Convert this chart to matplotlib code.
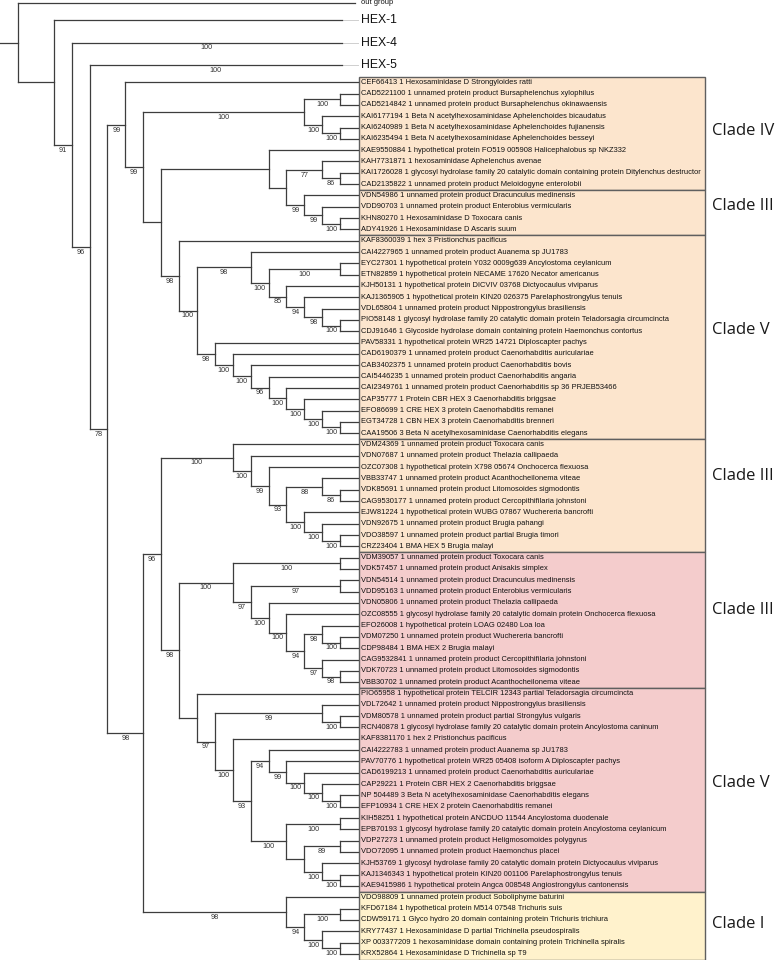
import matplotlib
matplotlib.use("Agg")
import matplotlib.pyplot as plt
from matplotlib.patches import Rectangle

# ---------------- data ----------------
TOP_TIPS = ["out group", "HEX-1", "HEX-4", "HEX-5"]

LEAF_LABELS = [
    "CEF66413 1 Hexosaminidase D Strongyloides ratti",
    "CAD5221100 1 unnamed protein product Bursaphelenchus xylophilus",
    "CAD5214842 1 unnamed protein product Bursaphelenchus okinawaensis",
    "KAI6177194 1 Beta N acetylhexosaminidase Aphelenchoides bicaudatus",
    "KAI6240989 1 Beta N acetylhexosaminidase Aphelenchoides fujianensis",
    "KAI6235494 1 Beta N acetylhexosaminidase Aphelenchoides besseyi",
    "KAE9550884 1 hypothetical protein FO519 005908 Halicephalobus sp NKZ332",
    "KAH7731871 1 hexosaminidase Aphelenchus avenae",
    "KAI1726028 1 glycosyl hydrolase family 20 catalytic domain containing protein Ditylenchus destructor",
    "CAD2135822 1 unnamed protein product Meloidogyne enterolobii",
    "VDN54986 1 unnamed protein product Dracunculus medinensis",
    "VDD90703 1 unnamed protein product Enterobius vermicularis",
    "KHN80270 1 Hexosaminidase D Toxocara canis",
    "ADY41926 1 Hexosaminidase D Ascaris suum",
    "KAF8360039 1 hex 3 Pristionchus pacificus",
    "CAI4227965 1 unnamed protein product Auanema sp JU1783",
    "EYC27301 1 hypothetical protein Y032 0009g639 Ancylostoma ceylanicum",
    "ETN82859 1 hypothetical protein NECAME 17620 Necator americanus",
    "KJH50131 1 hypothetical protein DICVIV 03768 Dictyocaulus viviparus",
    "KAJ1365905 1 hypothetical protein KIN20 026375 Parelaphostrongylus tenuis",
    "VDL65804 1 unnamed protein product Nippostrongylus brasiliensis",
    "PIO58148 1 glycosyl hydrolase family 20 catalytic domain protein Teladorsagia circumcincta",
    "CDJ91646 1 Glycoside hydrolase domain containing protein Haemonchus contortus",
    "PAV58331 1 hypothetical protein WR25 14721 Diploscapter pachys",
    "CAD6190379 1 unnamed protein product Caenorhabditis auriculariae",
    "CAB3402375 1 unnamed protein product Caenorhabditis bovis",
    "CAI5446235 1 unnamed protein product Caenorhabditis angaria",
    "CAI2349761 1 unnamed protein product Caenorhabditis sp 36 PRJEB53466",
    "CAP35777 1 Protein CBR HEX 3 Caenorhabditis briggsae",
    "EFO86699 1 CRE HEX 3 protein Caenorhabditis remanei",
    "EGT34728 1 CBN HEX 3 protein Caenorhabditis brenneri",
    "CAA19506 3 Beta N acetylhexosaminidase Caenorhabditis elegans",
    "VDM24369 1 unnamed protein product Toxocara canis",
    "VDN07687 1 unnamed protein product Thelazia callipaeda",
    "OZC07308 1 hypothetical protein X798 05674 Onchocerca flexuosa",
    "VBB33747 1 unnamed protein product Acanthocheilonema viteae",
    "VDK85691 1 unnamed protein product Litomosoides sigmodontis",
    "CAG9530177 1 unnamed protein product Cercopithifilaria johnstoni",
    "EJW81224 1 hypothetical protein WUBG 07867 Wuchereria bancrofti",
    "VDN92675 1 unnamed protein product Brugia pahangi",
    "VDO38597 1 unnamed protein product partial Brugia timori",
    "CRZ23404 1 BMA HEX 5 Brugia malayi",
    "VDM39057 1 unnamed protein product Toxocara canis",
    "VDK57457 1 unnamed protein product Anisakis simplex",
    "VDN54514 1 unnamed protein product Dracunculus medinensis",
    "VDD95163 1 unnamed protein product Enterobius vermicularis",
    "VDN05806 1 unnamed protein product Thelazia callipaeda",
    "OZC08555 1 glycosyl hydrolase family 20 catalytic domain protein Onchocerca flexuosa",
    "EFO26008 1 hypothetical protein LOAG 02480 Loa loa",
    "VDM07250 1 unnamed protein product Wuchereria bancrofti",
    "CDP98484 1 BMA HEX 2 Brugia malayi",
    "CAG9532841 1 unnamed protein product Cercopithifilaria johnstoni",
    "VDK70723 1 unnamed protein product Litomosoides sigmodontis",
    "VBB30702 1 unnamed protein product Acanthocheilonema viteae",
    "PIO65958 1 hypothetical protein TELCIR 12343 partial Teladorsagia circumcincta",
    "VDL72642 1 unnamed protein product Nippostrongylus brasiliensis",
    "VDM80578 1 unnamed protein product partial Strongylus vulgaris",
    "RCN40878 1 glycosyl hydrolase family 20 catalytic domain protein Ancylostoma caninum",
    "KAF8381170 1 hex 2 Pristionchus pacificus",
    "CAI4222783 1 unnamed protein product Auanema sp JU1783",
    "PAV70776 1 hypothetical protein WR25 05408 isoform A Diploscapter pachys",
    "CAD6199213 1 unnamed protein product Caenorhabditis auriculariae",
    "CAP29221 1 Protein CBR HEX 2 Caenorhabditis briggsae",
    "NP 504489 3 Beta N acetylhexosaminidase Caenorhabditis elegans",
    "EFP10934 1 CRE HEX 2 protein Caenorhabditis remanei",
    "KIH58251 1 hypothetical protein ANCDUO 11544 Ancylostoma duodenale",
    "EPB70193 1 glycosyl hydrolase family 20 catalytic domain protein Ancylostoma ceylanicum",
    "VDP27273 1 unnamed protein product Heligmosomoides polygyrus",
    "VDO72095 1 unnamed protein product Haemonchus placei",
    "KJH53769 1 glycosyl hydrolase family 20 catalytic domain protein Dictyocaulus viviparus",
    "KAJ1346343 1 hypothetical protein KIN20 001106 Parelaphostrongylus tenuis",
    "KAE9415986 1 hypothetical protein Angca 008548 Angiostrongylus cantonensis",
    "VDO98809 1 unnamed protein product Soboliphyme baturini",
    "KFD67184 1 hypothetical protein M514 07548 Trichuris suis",
    "CDW59171 1 Glyco hydro 20 domain containing protein Trichuris trichiura",
    "KRY77437 1 Hexosaminidase D partial Trichinella pseudospiralis",
    "XP 003377209 1 hexosaminidase domain containing protein Trichinella spiralis",
    "KRX52864 1 Hexosaminidase D Trichinella sp T9",
]

TIPS = TOP_TIPS + LEAF_LABELS          # tip index = position in this list
TIP_SUPPORT = {2: 100, 3: 100}         # bootstrap on collapsed HEX-4 / HEX-5 branches
COLLAPSED = {1, 2, 3}                  # HEX clades shown collapsed
BIG_TIPS = {1, 2, 3}                   # rows drawn taller (large labels)
COLLAPSED_HEIGHT = {0: 18}             # outgroup is a collapsed clade

# topology (tip indices) with bootstrap support after ")"
BURSAPH = "((5,6)100,(7,(8,9)100)100)100"
IV_III = "(10,((11,(12,13)86)77,(14,(15,(16,17)100)99)99))"
V_OR = ("(18,((19,((20,21)100,(22,(23,(24,(25,26)100)98)94)85)100)98,"
        "(27,(28,(29,(30,(31,(32,(33,(34,35)100)100)100)100)96)100)100)98)100)98")
III_OR = "(36,(37,(38,((39,(40,41)86)88,(42,(43,(44,45)100)100)100)93)99)100)100"
III_PK = "((46,47)100,((48,49)97,(50,(51,((52,(53,54)100)98,(55,(56,57)98)97)94)100)100)97)100"
V_PK = ("(58,((59,(60,61)100)99,(62,((63,(64,(65,(66,(67,68)100)100)100)99)94,"
        "((69,70)100,((71,72)89,(73,(74,75)100)100))100)93)100)97)")
CLADE_I = "(76,((77,78)100,(79,(80,81)100)100)94)98"
N162A = "(%s,%s)" % (IV_III, V_OR)
N144A = "(%s,%s)99" % (BURSAPH, N162A)
N126 = "(4,%s)99" % N144A
N144B = "((%s,(%s,%s)98)96,%s)98" % (III_OR, III_PK, V_PK, CLADE_I)
NEWICK = "(0,(1,(2,(3,(%s,%s)78)96)91))" % (N126, N144B)

# clades: label, first leaf, last leaf (1-based), fill colour, label row shift
CLADES = [
    ("Clade IV", 1, 10, "#FCE5CD", -0.2),
    ("Clade III", 11, 14, "#FCE5CD", -0.6),
    ("Clade V", 15, 32, "#FCE5CD", -0.6),
    ("Clade III", 33, 42, "#FCE5CD", -1.7),
    ("Clade III", 43, 54, "#F4CCCC", -0.9),
    ("Clade V", 55, 72, "#F4CCCC", -0.6),
    ("Clade I", 73, 78, "#FFF2CC", -0.1),
]

# ---------------- layout ----------------
W, H = 776, 960
X_STEP, Y_STEP, Y0 = 17.9, 11.32, 3.0
TIP_LEVEL = 20
COLLAPSED_END = 342 / X_STEP
BOX_L, BOX_R = 359 / X_STEP, 705 / X_STEP
LABEL_X = 361 / X_STEP
CLADE_X = 712 / X_STEP
LINE_C = "#3d3d3d"
LW = 0.9


def parse(s):
    pos = 0

    def read_num():
        nonlocal pos
        st = pos
        while pos < len(s) and s[pos].isdigit():
            pos += 1
        return int(s[st:pos]) if pos > st else None

    def node():
        nonlocal pos
        if s[pos] == "(":
            pos += 1
            kids = [node()]
            while s[pos] == ",":
                pos += 1
                kids.append(node())
            pos += 1  # ')'
            return {"kids": kids, "support": read_num()}
        t = read_num()
        return {"tip": t, "support": TIP_SUPPORT.get(t)}

    return node()


# tip rows
rows = []
acc = 0.0
h0 = 2 if 0 in BIG_TIPS else 1
for i in range(len(TIPS)):
    h = 2 if i in BIG_TIPS else 1
    rows.append(acc + h / 2 - h0 / 2)
    acc += h


def layout(n):
    if "tip" in n:
        n["y"] = rows[n["tip"]]
        n["h"] = COLLAPSED_HEIGHT.get(n["tip"], 0)
        n["x"] = TIP_LEVEL
    else:
        for k in n["kids"]:
            layout(k)
        n["y"] = (n["kids"][0]["y"] + n["kids"][-1]["y"]) / 2
        n["h"] = 1 + max(k["h"] for k in n["kids"])
        n["x"] = TIP_LEVEL - n["h"]


tree = parse(NEWICK)
layout(tree)

fig = plt.figure(figsize=(W / 100, H / 100), dpi=100)
ax = fig.add_axes([0, 0, 1, 1])
ax.set_xlim(0, W / X_STEP)
ax.set_ylim((H - Y0) / Y_STEP, -Y0 / Y_STEP)
ax.axis("off")

leaf_row = lambda k: rows[k + 3]

# clade boxes
for name, a, b, col, shift in CLADES:
    top = leaf_row(a) - 0.5
    bot = leaf_row(b) + 0.5
    ax.add_patch(Rectangle((BOX_L, top), BOX_R - BOX_L, bot - top,
                           facecolor=col, edgecolor="#5f5f5f", lw=1.0, zorder=1))
    ax.text(CLADE_X, (top + bot) / 2 + shift, name, fontsize=12,
            family="Open Sans", color="#1a1a1a", ha="left", va="center")


def seg(xs, ys, c=LINE_C, lw=LW):
    ax.plot(xs, ys, color=c, lw=lw, solid_capstyle="projecting", zorder=2)


def draw(n):
    if "kids" not in n:
        return
    ys = [k["y"] for k in n["kids"]]
    seg([n["x"], n["x"]], [min(ys), max(ys)])
    for k in n["kids"]:
        end = k["x"]
        if "tip" in k and k["tip"] in COLLAPSED:
            end = COLLAPSED_END
            seg([end, TIP_LEVEL], [k["y"]] * 2, c="#cfcfcf", lw=0.7)
        elif "tip" in k and k["tip"] == 0:
            end = TIP_LEVEL - 0.15
        seg([n["x"], end], [k["y"]] * 2)
        if k["support"] is not None:
            ax.text((n["x"] + end) / 2, k["y"] + 0.47, str(k["support"]),
                    fontsize=5.2, family="Liberation Sans", color="#333333",
                    ha="center", va="center", zorder=3)
        draw(k)


seg([0, tree["x"]], [tree["y"]] * 2)
draw(tree)

# tip labels
for i, lab in enumerate(TIPS):
    big = i in BIG_TIPS
    ax.text(LABEL_X, rows[i], lab, fontsize=8.8 if big else 5.4,
            family="Liberation Sans", color="#111111", ha="left", va="center",
            zorder=3)

fig.savefig("out.png", dpi=100)
